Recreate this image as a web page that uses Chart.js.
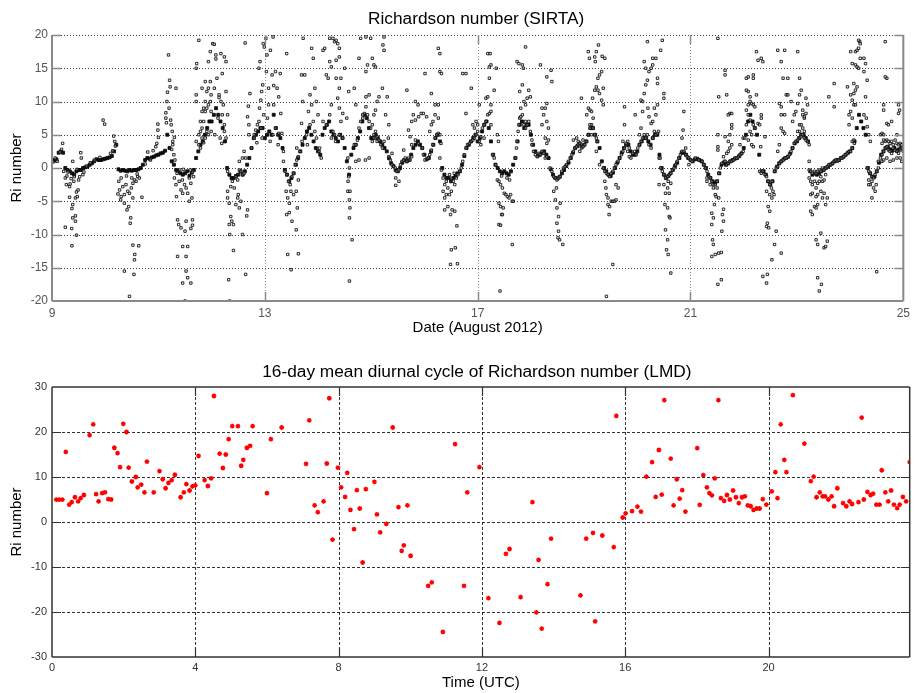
<!DOCTYPE html>
<html><head><meta charset="utf-8">
<script src="https://cdn.jsdelivr.net/npm/chart.js@4.4.1/dist/chart.umd.min.js"></script>
<style>
html,body{margin:0;padding:0;background:#fff;width:915px;height:693px;overflow:hidden}
canvas{position:absolute;left:0}
#top{top:0}
#bot{top:345px}
</style></head><body>
<canvas id="top" width="915" height="345"></canvas>
<canvas id="bot" width="915" height="348"></canvas>
<script>
// ---------- Top panel: Richardson number (SIRTA), days of August 2012 ----------
const dateTicks = [9, 13, 17, 21, 25];
const riTicksTop = [-20, -15, -10, -5, 0, 5, 10, 15, 20];
const bandDays = [9,10,11,12,13,14,15,16,17,18,19,20,21,22,23,24];
// hourly main band values (hour 0..23 of each day)
const bandAug09 = [1.2,1.1,1.3,2.3,2.5,2.3,0,-0.3,-0.5,-0.8,-1.0,-0.5,-0.3,-0.3,0,0.1,0.2,0.5,0.7,1.0,1.3,1.2,1.2,1.3];
const bandAug10 = [1.4,1.5,1.6,1.8,2.5,3.5,-0.2,-0.4,-0.3,-0.4,-0.5,-0.3,-0.4,-0.3,-0.3,-0.2,0,0.5,1.2,1.5,1.4,1.6,1.7,1.9];
const bandAug11 = [2.0,2.2,2.3,2.6,5,3,1,0.5,-0.3,-0.5,-0.8,-1.0,-0.8,-0.5,-1.2,-0.7,-0.3,1.5,2.5,3.5,4,5,6,7];
const bandAug12 = [7,8,9,8,7,6,4,0,-1,-1.5,-1.5,-1.2,-1,-0.5,-1,-0.5,0.5,1.5,3,4.5,5,5.5,6,6];
const bandAug13 = [4.5,5,5.5,5,8,6,5,4.5,3,-0.3,-1,-2,-1.5,-0.8,0.5,1.5,2.5,3.5,4.5,5.5,6,5,4,3];
const bandAug14 = [2.5,2,5,6,6.5,7,5.5,5,4.5,4,5,4.5,3,1,-1,2,3,3.5,4.5,5.5,7,8,7.5,6];
const bandAug15 = [4.5,4.5,5,4.5,4,3.5,3,2.5,1.5,0.7,0.3,-0.3,-0.5,0,0.8,1.2,1,1.2,2,3,3.5,4,3.5,3];
const bandAug16 = [2,1.3,1.5,2.5,3.5,4.5,5,4,0,-1,-1.5,-1.5,-2,-1.5,-1.2,-0.8,-0.5,0.5,1.8,3,3.5,4,4.5,5];
const bandAug17 = [4,4.5,5.5,6.5,7,6,4,2,0.5,0,-0.5,-0.8,-0.5,-0.8,-1,-0.5,0.5,1.5,4,6.5,7,6,6.5,6.5];
const bandAug18 = [5,3.5,2.5,1.8,2,2.3,2.5,2,1.5,-0.2,-1,-1.5,-1.6,-1.3,-0.8,-0.3,0.3,0.8,1.5,2.3,3,3.3,3.7,3.2];
const bandAug19 = [3.5,4,5,6,6,5,4,3,1,0,-0.5,-1,-1.2,-0.7,0,0.8,1.5,2.3,3,3.5,3.5,2.5,2,2];
const bandAug20 = [2.5,3.5,4,4.5,4.5,4,3.5,4.5,5,5,2,0,-1,-1.5,-1.2,-0.8,-0.3,0.3,0.8,1.5,2.3,2.3,2,1.5];
const bandAug21 = [1.2,1,1.3,1.4,1.2,1,0.5,0,-1,-1.5,-2,-2.3,-2,-0.8,0.5,0.8,0.5,0.7,1,1.2,1.4,1.5,1.8,2.2];
const bandAug22 = [3,5,7,8,7,6,5,2,-0.5,-0.5,-1,-2,-2.5,-2,-0.5,0.2,0.7,1,1.3,1.5,1.7,2.2,3,3.7];
const bandAug23 = [4,4.5,5,5,4.5,4,-0.5,-1,-0.8,-1,-0.8,-0.5,-0.3,0,0.2,0.5,0.7,1,1.2,1.2,1.5,1.7,2,2.3];
const bandAug24 = [2.5,3,4,6,8,7,6,5,0,-0.8,-1.3,-1.3,-0.5,0.8,2,2.5,3,3.2,2.8,2.6,3,2.6,2.8,3];

// scattered individual samples [day, Ri]
const spreadAug09 = [[9.25,-1.5],[9.27,-2.5],[9.33,-2.8],[9.34,-2.4],[9.33,-4.4],[9.375,-6.1],[9.39,-5.5],[9.44,-4.5],[9.475,-4.3],[9.49,-3.3],[9.46,-3.6],[9.39,-7.5],[9.44,-7.2],[9.44,-8],[9.46,-10.1],[9.375,-11.7],[9.25,-8.9],[9.37,-9.1],[9.54,2.3],[9.55,1.5],[9.52,-1.3],[9.58,-1],[9.39,1.0],[9.2,3.7],[9.18,2.8],[9.15,2.4],[9.3,-0.6],[9.36,-1.6],[9.41,-2],[9.5,-1.8],[9.6,-0.6],[9.28,-1.2],[9.22,-0.5],[9.42,-1.3],[9.47,-0.2],[9.96,7.2],[9.99,6.6],[9.9,1.6],[9.8,1.2],[9.72,0.8],[9.65,0.3],[9.02,0.9],[9.06,1.5],[9.1,1.0]];
const spreadAug10 = [[10.16,4.8],[10.18,4.0],[10.19,3.3],[10.14,2.6],[10.1,2.2],[10.256,-2],[10.27,-3.3],[10.3,-4.3],[10.33,-2.8],[10.36,-4.0],[10.39,-2.5],[10.425,-3.5],[10.456,-3.8],[10.49,-3],[10.52,-2.3],[10.55,-1.8],[10.58,-2],[10.61,-1.3],[10.64,-1.5],[10.69,-4.4],[10.36,-5.3],[10.44,-5.8],[10.52,-4.5],[10.41,-6.3],[10.48,-7.5],[10.47,-8.3],[10.52,-11.6],[10.556,-13],[10.55,-13.8],[10.54,-16],[10.63,-11.7],[10.456,-19.3],[10.36,-15.5],[10.29,-4.8],[10.24,-3.9],[10.3,-1.5],[10.4,-1.2],[10.5,-1.5],[10.6,-0.9],[10.99,6.6],[10.99,5.7],[11.0,4.6],[10.97,3.7],[10.95,3.2],[10.9,2.6],[10.85,1.2],[10.8,2.4],[10.75,0.6]];
const spreadAug11 = [[11.14,7.5],[11.14,8.3],[11.15,6.8],[11.16,10],[11.17,11.4],[11.19,17],[11.21,13.2],[11.22,12.2],[11.2,9],[11.23,7.2],[11.24,6.5],[11.26,5.5],[11.27,4],[11.3,4.6],[11.33,12],[11.27,3.5],[11.29,2],[11.31,1.2],[11.25,2.8],[11.3,-1.5],[11.33,-2.5],[11.34,-4.3],[11.39,-2],[11.425,-3.3],[11.456,-3.8],[11.49,-2.5],[11.52,-3],[11.55,-3.8],[11.58,-1.5],[11.61,-2.3],[11.64,-0.6],[11.66,-1.3],[11.63,-4.5],[11.36,-7.8],[11.38,-8.5],[11.425,-9],[11.5,-9.5],[11.52,-8],[11.61,-9.1],[11.64,-8.6],[11.58,-5],[11.456,-11.8],[11.55,-11.8],[11.36,-13.3],[11.52,-13.3],[11.52,-15.5],[11.55,-16.5],[11.456,-17.3],[11.61,-17.3],[11.5,-20],[11.64,-7.8],[11.4,-0.3],[11.45,-1.8],[11.6,-0.3],[11.35,-0.8],[11.47,-0.2],[11.71,10],[11.71,11],[11.71,15],[11.71,4],[11.72,15.7],[11.76,19.2],[11.76,5],[11.76,3.5],[11.79,7],[11.79,5.5],[11.79,3],[11.82,8.5],[11.82,6],[11.82,4.5],[11.82,12],[11.85,9],[11.85,7],[11.85,3.8],[11.88,10],[11.88,8.5],[11.88,4.5],[11.88,13],[11.91,11.5],[11.91,9],[11.91,5.5],[11.94,12],[11.94,9.5],[11.94,5],[11.94,16],[11.975,13],[11.975,10],[11.975,17.5],[11.99,11],[11.99,8.5],[11.99,5.5]];
const spreadAug12 = [[12.02,18.7],[12.05,18.6],[12.08,17],[12.08,16.4],[12.14,11],[12.14,10.6],[12.175,10],[12.2,8],[12.24,6.5],[12.175,17.2],[12.24,16.7],[12.27,16],[12.2,14.2],[12.27,11.5],[12.3,8],[12.24,5.5],[12.27,4.5],[12.19,3.7],[12.05,12],[12.1,13.5],[12.12,7.5],[12.06,5],[12.16,4.5],[12.22,9.5],[12.3,-0.5],[12.3,-3.5],[12.36,-2.8],[12.39,-2],[12.425,-3],[12.456,-1.3],[12.49,-1.8],[12.52,-0.3],[12.55,-0.5],[12.58,-1],[12.61,-0.8],[12.3,-4.5],[12.33,-5.3],[12.36,-7.3],[12.38,-8],[12.41,-8.5],[12.34,-10],[12.456,-5.5],[12.49,-4.5],[12.5,-4],[12.52,-6],[12.55,-5],[12.41,-12.4],[12.32,-16.8],[12.34,-20],[12.64,-16],[12.58,-10],[12.66,-7.2],[12.675,-6.3],[12.33,-8.5],[12.52,1],[12.58,1.5],[12.61,2.5],[12.64,1.5],[12.7,6.5],[12.7,5],[12.675,7.7],[12.69,9.3],[12.72,11.2],[12.63,18.8],[12.8,5],[12.8,4.5],[12.83,5.7],[12.86,6.5],[12.89,7],[12.9,9],[12.925,10.2],[12.94,11.5],[12.89,15],[12.91,16],[12.96,12.5],[12.97,18.7],[12.99,18.2],[12.75,3],[12.85,3.8],[12.95,4.5],[12.98,8],[12.93,6]];
const spreadAug13 = [[13.02,19.5],[13.04,17],[13.07,12],[13.07,9.5],[13.05,7.5],[13.03,14.5],[13.105,17.7],[13.155,19.7],[13.136,14],[13.2,14.5],[13.29,14.2],[13.167,12.4],[13.23,12],[13.26,10.7],[13.3,8.2],[13.32,5.2],[13.26,5.2],[13.2,6],[13.167,9.5],[13.41,17.2],[13.1,4],[13.15,5],[13.25,3.5],[13.35,2.5],[13.35,1],[13.38,-0.5],[13.41,-1],[13.445,-2],[13.476,-2.5],[13.51,-1.3],[13.54,-0.8],[13.57,0.5],[13.6,1.2],[13.63,1.7],[13.66,2.5],[13.4,-3.5],[13.43,-4.5],[13.46,-5.3],[13.49,-3.5],[13.54,-4],[13.59,-3.5],[13.63,-1.8],[13.61,-6],[13.41,-7],[13.46,-6.7],[13.51,-8],[13.59,-9.3],[13.43,-13],[13.63,-12.9],[13.495,-15.3],[13.69,14],[13.75,14],[13.71,10],[13.85,11],[13.82,8.5],[13.88,18],[13.91,16.5],[13.88,9.5],[13.94,12],[13.97,10],[13.72,19.5],[13.69,6.7],[13.785,5],[13.85,6.5],[13.91,7],[13.94,5.5],[13.97,4.5],[13.6,3],[13.7,4],[13.8,3.5],[14.0,8]];
const spreadAug14 = [[14.02,2.5],[14.03,3],[14.06,1.5],[14.094,7],[14.156,6.5],[14.22,8],[14.25,9.5],[14.28,5.5],[14.31,5],[14.33,4],[14.25,4.5],[14.19,13.5],[14.156,14],[14.125,18],[14.094,17.7],[14.22,19.5],[14.28,19.5],[14.31,19],[14.34,19.2],[14.37,18.7],[14.40,18],[14.22,16],[14.25,15.2],[14.34,13.5],[14.43,13.5],[14.40,12],[14.37,10.5],[14.40,9],[14.465,8.2],[14.43,7],[14.40,5],[14.465,4.5],[14.34,16.2],[14.40,16.7],[14.5,15],[14.56,1.5],[14.59,0],[14.576,-1.3],[14.564,-2],[14.56,-3.5],[14.6,-3.5],[14.59,-4.8],[14.6,-6],[14.59,-7.5],[14.64,-10.8],[14.59,-17],[14.54,7.5],[14.576,11.5],[14.68,12],[14.71,9.5],[14.77,16.5],[14.8,19.5],[14.9,14.5],[14.93,15.5],[14.84,8],[14.68,3.5],[14.71,3.5],[14.74,4.2],[14.77,6],[14.8,7],[14.84,7.5],[14.87,8.2],[14.9,9.2],[14.93,8],[14.96,7],[14.99,6],[15.02,6.5],[15.05,5],[15.08,4.5],[15.11,4],[14.77,1.2],[14.89,1.2],[14.96,1.5],[14.71,1],[14.9,10.7],[14.96,11],[15.02,16.5],[15.05,15.5],[15.08,15.2],[14.99,19.5],[14.9,19.7]];
const spreadAug15 = [[15.02,4],[15.05,4.5],[15.08,5.5],[15.11,4.7],[15.145,4.2],[15.18,3.5],[15.21,3],[15.24,4],[15.05,8],[15.08,8.7],[15.11,10],[15.145,10.7],[15.21,12],[15.24,17.7],[15.24,19.7],[15.22,18.5],[15.3,10.7],[15.27,8],[15.32,4.5],[15.33,6.5],[15.33,1.7],[15.36,1.2],[15.39,0.5],[15.42,0.2],[15.45,0],[15.48,-0.5],[15.52,-0.3],[15.55,0.5],[15.58,1],[15.61,1.2],[15.64,1.5],[15.67,1],[15.7,1.5],[15.73,1.2],[15.76,1.7],[15.46,-1.5],[15.46,-2.6],[15.52,-2],[15.39,2.2],[15.61,2.7],[15.67,11.7],[15.7,5.7],[15.73,4.7],[15.76,7],[15.83,7.2],[15.88,9.5],[15.83,10],[15.79,8],[16.01,14.2],[15.76,3.5],[15.83,4.2],[15.89,3.7],[15.96,3],[15.98,2],[15.89,7.7],[15.94,8.2],[15.98,8.2]];
const spreadAug16 = [[16.01,1.2],[16.07,1.5],[16.1,2],[16.13,2.7],[16.16,3.5],[16.2,4.5],[16.23,5],[16.26,5.2],[16.29,5],[16.31,3.7],[16.29,1.5],[16.04,7.7],[16.1,5.5],[16.13,6.5],[16.16,7],[16.2,8],[16.26,7.5],[16.2,9.5],[16.26,9.5],[16.29,14.5],[16.32,14.2],[16.26,18],[16.29,17.2],[16.13,11.2],[16.32,-0.3],[16.35,-1.5],[16.35,-3.5],[16.38,-2.5],[16.38,-4.5],[16.41,-2],[16.41,-4],[16.44,-3],[16.47,-4],[16.505,-3.5],[16.54,-2],[16.57,-2.5],[16.6,-1.5],[16.63,-1],[16.66,-0.5],[16.69,0],[16.38,-6.3],[16.44,-5.8],[16.49,-7],[16.52,-6.3],[16.57,-6.5],[16.61,-8.7],[16.505,-12.3],[16.58,-12],[16.49,-14.5],[16.62,-14.4],[16.47,-1],[16.56,-0.8],[16.72,1],[16.75,2],[16.78,3],[16.81,3.5],[16.845,3.7],[16.88,4],[16.91,4.2],[16.94,4.5],[16.97,5],[17.0,5.5],[16.72,14.2],[16.78,14.2],[16.88,12],[16.78,8.2],[16.91,6.5],[16.97,7],[17.0,6.5],[16.94,6]];
const spreadAug17 = [[17.03,4],[17.06,4.7],[17.09,6],[17.12,6.5],[17.155,7],[17.19,8],[17.22,8.2],[17.25,6.5],[17.25,8.5],[17.03,9.5],[17.155,10.5],[17.19,10.7],[17.22,13.5],[17.22,15.2],[17.25,15.5],[17.19,17.2],[17.235,17.2],[17.35,15],[17.31,11.7],[17.25,9.5],[17.28,2],[17.31,1.5],[17.34,0.5],[17.06,3.5],[17.12,4.5],[17.37,-1.8],[17.4,-2],[17.43,-2.5],[17.465,-3],[17.5,-3.8],[17.53,-4],[17.56,-4.3],[17.59,-4.5],[17.62,-4],[17.65,-5],[17.4,-5.3],[17.43,-5.8],[17.45,-7],[17.48,-6],[17.4,-8.5],[17.43,-8.6],[17.465,-7],[17.65,-11.5],[17.42,-18.5],[17.67,-5],[17.37,5],[17.39,4],[17.45,-1.2],[17.55,-1.5],[17.6,-1.8],[17.71,1.5],[17.73,3],[17.74,4],[17.76,5.5],[17.775,6.5],[17.79,7.5],[17.81,9],[17.84,8],[17.87,6.5],[17.9,6],[17.93,6.5],[17.96,7],[17.99,5.5],[17.74,16],[17.775,15.7],[17.84,15.5],[17.86,15],[17.9,18.2],[17.84,12.5],[17.79,11.5],[17.87,10],[17.9,9.5],[17.93,10.5],[17.96,11.7],[17.99,10.7],[17.9,7],[17.81,7.7]];
const spreadAug18 = [[18.02,3.5],[18.05,2.5],[18.085,2],[18.12,1.7],[18.15,2.2],[18.18,2],[18.21,2.5],[18.24,2.2],[18.27,1.5],[18.3,1.7],[18.02,4.2],[18.21,6.5],[18.24,8],[18.27,4.5],[18.3,3.7],[18.21,9],[18.27,9],[18.3,7],[18.33,6],[18.33,4.2],[18.3,13.7],[18.38,14.7],[18.395,13],[18.18,15.5],[18.3,9.7],[18.36,0],[18.395,-0.5],[18.43,-1.3],[18.46,-1.5],[18.49,-1.8],[18.52,-1.5],[18.55,-1.3],[18.58,-0.5],[18.61,0],[18.64,0.2],[18.67,0.5],[18.43,-3.5],[18.46,-4.8],[18.49,-6],[18.52,-7.3],[18.49,-8.3],[18.52,-9.5],[18.51,-10.5],[18.54,-10.8],[18.6,-11.5],[18.55,-5.3],[18.48,-3],[18.705,1],[18.74,1.5],[18.77,2],[18.8,2.5],[18.83,3],[18.86,3.2],[18.89,3.5],[18.92,3.7],[18.95,3],[18.98,3.2],[18.8,4.2],[18.86,4.5],[18.89,4],[18.95,10.5],[18.98,4.2],[18.92,2.5]];
const spreadAug19 = [[19.015,3.5],[19.05,4],[19.08,5],[19.11,6],[19.14,6.5],[19.17,6],[19.2,5],[19.23,4.5],[19.245,4],[19.05,8],[19.08,9],[19.11,8.7],[19.14,8.5],[19.17,7.5],[19.16,10.5],[19.2,11.7],[19.23,12.2],[19.26,13.5],[19.29,14],[19.33,14.5],[19.26,11.7],[19.29,11.2],[19.33,10.2],[19.36,9.5],[19.08,17.5],[19.1,16.5],[19.2,16.7],[19.21,16],[19.23,17.5],[19.39,16.5],[19.11,6.5],[19.14,5],[19.23,2.5],[19.29,0.5],[19.36,12],[19.27,18.5],[19.34,16.8],[19.36,0],[19.39,-0.5],[19.42,-0.8],[19.45,-1],[19.48,-1.3],[19.51,-0.8],[19.54,-0.5],[19.57,0],[19.6,0.5],[19.39,-2],[19.41,-3],[19.42,-4],[19.45,-4.5],[19.45,-5.5],[19.48,-5.8],[19.51,-5],[19.54,-5],[19.57,-5],[19.6,-4.8],[19.6,-2.5],[19.64,-3],[19.47,-7],[19.54,-14.5],[19.42,-19.3],[19.64,1],[19.67,1.5],[19.7,2],[19.73,2.5],[19.76,3],[19.79,3.5],[19.82,4],[19.73,4],[19.76,6.5],[19.79,3.7],[19.82,2.5],[19.85,1.7],[19.88,1.5],[19.915,2.2],[19.95,2.5],[19.98,2],[19.76,9.2],[19.96,8],[19.85,3]];
const spreadAug20 = [[20.01,3],[20.04,5],[20.07,6],[20.04,3.5],[20.07,4],[20.1,4.5],[20.13,5],[20.16,4.5],[20.19,5],[20.22,3.5],[20.26,3],[20.29,4.5],[20.32,5.5],[20.35,5],[20.38,5.2],[20.4,5.5],[20.1,10],[20.13,11.2],[20.16,12.5],[20.19,13.2],[20.22,14.5],[20.26,15],[20.29,15.5],[20.13,16],[20.16,15],[20.19,19],[20.29,16.5],[20.35,16.5],[20.38,13.5],[20.38,12.7],[20.44,17.7],[20.47,19.2],[20.5,11.2],[20.5,10.5],[20.22,7.7],[20.26,6.7],[20.29,7],[20.38,9.5],[20.32,9],[20.35,8],[20.41,1.5],[20.43,1.5],[20.07,10.2],[20.1,8.5],[20.2,9],[20.44,0],[20.47,-0.5],[20.5,-1],[20.53,-1.5],[20.57,-1.3],[20.6,-1],[20.63,-0.8],[20.66,-0.3],[20.69,0],[20.5,-2.5],[20.53,-3.8],[20.57,-3],[20.58,-2],[20.6,-3.8],[20.63,-2.3],[20.52,-5.5],[20.57,-6],[20.6,-7.3],[20.615,-7.5],[20.53,-9.3],[20.57,-10.8],[20.55,-12.3],[20.58,-13],[20.63,-15.8],[20.41,-2.5],[20.72,0.5],[20.75,1],[20.78,1.5],[20.81,2],[20.84,2.5],[20.875,2.5],[20.91,2],[20.94,1.7],[20.97,1.5],[21.0,1.2],[20.84,4.5],[20.86,5.7],[20.875,8.5],[20.91,3],[20.97,0.5]];
const spreadAug21 = [[21.03,1],[21.09,1.5],[21.155,1.2],[21.22,1],[21.25,0.5],[21.28,0],[21.31,-0.5],[21.34,-1.3],[21.37,-1.5],[21.4,-2],[21.43,-2.5],[21.465,-2.5],[21.5,-2],[21.53,-0.8],[21.31,-1.5],[21.31,-2],[21.37,-2.5],[21.43,-3],[21.5,-3],[21.465,-4],[21.45,-5.5],[21.48,-4.3],[21.53,-4.5],[21.4,-6.8],[21.43,-7.5],[21.4,-8.5],[21.62,-6.2],[21.6,-7],[21.62,-8],[21.59,-9.5],[21.415,-10.8],[21.43,-11.5],[21.4,-13.3],[21.465,-13],[21.53,-12.8],[21.58,-12.7],[21.58,-16.8],[21.515,-17.5],[21.53,10.7],[21.65,14],[21.65,14.7],[21.68,11],[21.65,4.7],[21.515,2.7],[21.515,3.2],[21.62,1.7],[21.64,1],[21.515,19.5],[21.515,5],[21.56,0],[21.59,0.7],[21.65,1],[21.68,0.5],[21.71,0.7],[21.74,1],[21.775,1],[21.81,1.2],[21.84,1.5],[21.87,1.5],[21.9,1.7],[21.93,2],[21.96,2.2],[21.99,2.5],[21.68,2.2],[21.71,2.5],[21.74,3],[21.775,3.5],[21.71,4],[21.74,5],[21.775,6.5],[21.74,8.2],[21.775,6],[21.71,8],[21.775,8.2],[21.93,3.5],[21.99,4.5]];
const spreadAug22 = [[22.02,4.5],[22.05,6.5],[22.085,8],[22.05,8.7],[22.085,9.5],[22.12,10],[22.15,9.7],[22.18,9.5],[22.21,9.2],[22.05,11.7],[22.085,11.5],[22.12,10.7],[22.05,13.5],[22.085,13.7],[22.18,14],[22.18,13.5],[22.12,7.2],[22.12,5.5],[22.15,5],[22.18,6.5],[22.21,6],[22.085,4.2],[22.15,3.5],[22.18,3.2],[22.24,17.5],[22.27,16.2],[22.33,16.5],[22.36,16],[22.24,11],[22.27,6.7],[22.33,8],[22.3,6.5],[22.33,7.5],[22.32,3.2],[22.4,4.7],[22.3,-0.5],[22.33,-0.8],[22.36,-0.5],[22.4,-1],[22.43,-1.3],[22.46,-2],[22.49,-2.5],[22.52,-3],[22.55,-3.5],[22.53,-4.5],[22.49,-4],[22.43,-3.5],[22.46,-5.8],[22.49,-6.5],[22.445,-8.3],[22.47,-9],[22.43,-8.8],[22.53,-2],[22.57,-4],[22.58,-11.5],[22.53,-13.8],[22.705,-12.8],[22.445,-16],[22.36,-16.3],[22.43,-17.3],[22.61,-9.5],[22.58,-0.5],[22.61,0],[22.64,0.2],[22.67,0.7],[22.705,1],[22.74,1.2],[22.77,1.5],[22.8,1.5],[22.83,1.7],[22.86,2],[22.89,2.5],[22.92,3],[22.95,3.7],[22.98,4],[22.64,2.5],[22.67,3.5],[22.705,6],[22.74,5.5],[22.77,5.2],[22.77,8],[22.8,11],[22.83,11],[22.705,8],[22.67,9.7],[22.705,9.2],[22.64,17.7],[22.77,17.7],[22.705,16],[22.74,13.5],[22.83,13.5],[22.89,10],[22.92,7],[22.95,8],[22.98,8.5]];
const spreadAug23 = [[23.015,9.7],[23.05,11],[23.015,17.5],[23.05,13.5],[23.08,11.7],[23.11,8],[23.14,7.5],[23.015,5.5],[23.05,5.5],[23.08,5],[23.11,5],[23.015,4.2],[23.05,4.5],[23.08,4.7],[23.14,4.5],[23.17,4.2],[23.2,4],[23.23,3.5],[23.05,6.5],[23.08,6.5],[23.11,6],[23.14,5.5],[23.14,7.7],[23.17,8.2],[23.2,9.5],[23.17,10.5],[23.11,8.7],[23.23,-0.3],[23.26,-0.5],[23.29,-0.8],[23.33,-0.5],[23.36,-0.8],[23.39,-0.5],[23.42,-0.3],[23.45,-0.5],[23.48,0],[23.51,-0.3],[23.54,0],[23.57,0.2],[23.6,0.5],[23.23,-1.5],[23.26,-2],[23.29,-2.5],[23.33,-2],[23.36,-3],[23.39,-2.3],[23.42,-2],[23.45,-1.3],[23.48,-2],[23.51,-1.8],[23.54,-1],[23.26,-4],[23.29,-3.8],[23.36,-4.3],[23.39,-4],[23.45,-3.5],[23.48,-4.5],[23.51,-3.8],[23.54,-5.5],[23.57,-4.5],[23.26,-6.5],[23.29,-7],[23.33,-5.8],[23.36,-6],[23.39,-5.5],[23.36,-10.8],[23.39,-11.5],[23.45,-9.8],[23.51,-12],[23.57,-11],[23.54,-11.8],[23.39,-16.5],[23.46,-17.5],[23.42,-18.5],[23.23,1],[23.64,0.5],[23.67,0.7],[23.7,1],[23.73,1.2],[23.76,1],[23.79,1.2],[23.82,1.5],[23.85,1.5],[23.88,1.7],[23.91,2],[23.95,2.2],[23.98,2.5],[23.6,10.7],[23.7,12.7],[23.7,9.2],[23.95,12.2],[23.98,6.5],[23.98,8]];
const spreadAug24 = [[24.01,2.5],[24.04,3],[24.04,4],[24.07,4.2],[24.08,3.7],[24.01,8.5],[24.04,7.5],[24.07,9.5],[24.1,9.5],[24.04,10.2],[24.01,11],[24.07,11.2],[24.1,11.7],[24.13,12.2],[24.07,12.7],[24.1,15.5],[24.13,15.2],[24.16,15],[24.04,15.7],[24.1,17.5],[24.13,17.7],[24.16,18],[24.18,19],[24.16,19.2],[24.19,18.7],[24.19,16.5],[24.26,16.5],[24.29,15.7],[24.26,14.5],[24.32,13.2],[24.29,10.7],[24.26,8],[24.305,7.5],[24.32,6.2],[24.35,5],[24.38,4],[24.01,17.5],[24.32,0],[24.35,-0.5],[24.38,-0.8],[24.41,-1.3],[24.44,-1.5],[24.47,-1],[24.5,-0.5],[24.53,0],[24.35,-1.8],[24.38,-2.5],[24.41,-2],[24.44,-3],[24.47,-3.5],[24.49,-2.5],[24.35,-2.5],[24.41,-4.5],[24.5,-15.6],[24.53,1],[24.57,1.5],[24.6,2],[24.63,2.5],[24.66,3],[24.69,3.2],[24.72,2.7],[24.75,2.5],[24.78,2.2],[24.81,3],[24.845,2.7],[24.88,2.5],[24.91,2.2],[24.94,2.7],[24.97,3],[25.0,2.5],[24.6,3.7],[24.63,4.2],[24.66,4],[24.69,4.2],[24.72,4],[24.75,3.7],[24.78,4],[24.81,3.5],[24.845,4.2],[24.88,3.7],[24.91,3.5],[24.94,3.7],[24.97,3.5],[24.6,1],[24.63,1.2],[24.69,1.5],[24.75,1],[24.81,1.2],[24.88,1.5],[24.94,1.5],[24.97,1],[24.63,9.5],[24.63,8.7],[24.69,6.7],[24.72,6.5],[24.78,7],[24.69,13.5],[24.66,13.7],[24.66,19],[24.57,5],[24.6,5.2],[24.63,5],[24.88,5],[24.91,9.5],[24.93,8.7],[24.91,8.2]];

// ---------- Bottom panel: 16-day mean diurnal cycle (LMD) ----------
const hourTicks = [0, 4, 8, 12, 16, 20];
const riTicksBottom = [-30, -20, -10, 0, 10, 20, 30];
const diurnalHour = [0.12,0.2,0.29,0.385,0.48,0.55,0.64,0.73,0.8,0.89,1.05,1.15,1.23,1.3,1.4,1.48,1.57,1.65,1.74,1.83,1.9,1.99,2.08,2.14,2.23,2.34,2.39,2.49,2.58,2.65,2.84,3.0,3.09,3.17,3.25,3.34,3.43,3.59,3.68,3.75,3.84,3.92,4.0,4.09,4.26,4.35,4.44,4.52,4.68,4.77,4.85,4.93,5.03,5.19,5.28,5.34,5.44,5.53,5.6,6.0,6.11,6.41,7.09,7.18,7.33,7.42,7.58,7.67,7.74,7.83,7.98,8.07,8.18,8.24,8.33,8.43,8.51,8.59,8.67,8.76,9.0,9.07,9.16,9.33,9.51,9.67,9.76,9.82,9.92,10.01,10.5,10.6,10.91,11.25,11.5,11.59,11.93,12.18,12.49,12.67,12.77,13.08,13.41,13.52,13.58,13.67,13.83,13.93,14.75,14.91,15.1,15.16,15.36,15.68,15.75,15.93,16.01,16.19,16.34,16.44,16.59,16.75,16.85,16.94,17.02,17.09,17.27,17.35,17.44,17.52,17.59,17.68,18.01,18.08,18.18,18.28,18.35,18.42,18.5,18.6,18.67,18.76,18.84,18.92,19.01,19.09,19.17,19.26,19.34,19.42,19.5,19.58,19.67,19.75,19.84,19.94,20.09,20.19,20.25,20.34,20.44,20.5,20.68,21.0,21.18,21.26,21.34,21.43,21.51,21.58,21.67,21.76,21.83,21.92,22.08,22.17,22.26,22.33,22.51,22.6,22.66,22.76,22.85,22.92,23.01,23.1,23.16,23.26,23.34,23.42,23.5,23.59,23.66,23.75,23.84,23.94];
const diurnalRi = [4.96,4.96,4.96,15.6,3.85,4.4,5.5,4.6,5.3,6.0,19.3,21.7,6.2,4.6,6.4,6.6,5.1,5.0,16.5,15.3,12.2,21.8,20.0,12.1,9.0,10.0,7.7,8.3,6.6,13.4,6.6,11.3,9.5,7.5,8.7,9.3,10.5,5.5,6.6,8.4,7.0,7.9,8.15,14.7,9.3,8.0,9.7,28.0,15.2,12.0,15.0,18.4,21.3,21.3,12.5,13.8,16.5,16.9,21.3,6.4,18.4,21.0,12.9,22.6,3.7,2.2,4.6,13.0,27.5,-3.9,12.1,7.7,5.6,10.9,2.7,-1.6,7.1,3.0,-9.0,7.3,8.9,1.7,-2.3,-0.4,21.0,3.3,-6.4,-5.2,3.7,-7.5,-14.2,-13.4,-24.4,17.3,-14.2,6.6,12.2,-16.9,-22.4,-7.1,-6.0,-16.7,4.4,-20.1,-8.4,-23.7,-13.8,-3.7,-16.3,-3.7,-2.4,-22.1,-3.0,-5.6,23.6,1.0,1.9,2.4,3.4,2.3,10.1,13.3,5.6,16.0,6.1,27.1,14.1,3.7,9.5,5.2,7.1,2.3,16.4,3.8,10.4,7.7,6.4,5.9,9.7,27.1,5.3,4.7,6.0,5.0,7.0,5.5,4.2,5.5,5.7,3.7,3.5,2.7,3.0,3.0,5.1,3.85,6.8,11.1,5.3,21.7,13.8,11.1,28.2,17.4,9.1,10.1,5.5,6.6,5.7,5.7,5.0,5.7,3.5,7.5,4.2,3.5,4.6,4.0,4.4,23.2,5.0,6.7,6.0,6.3,3.85,3.85,11.5,6.6,4.6,7.0,3.85,3.1,3.85,5.6,4.6,13.3];

// ---------- build point lists ----------
const bandArrays = [bandAug09,bandAug10,bandAug11,bandAug12,bandAug13,bandAug14,bandAug15,bandAug16,bandAug17,bandAug18,bandAug19,bandAug20,bandAug21,bandAug22,bandAug23,bandAug24];
const spreadArrays = [spreadAug09,spreadAug10,spreadAug11,spreadAug12,spreadAug13,spreadAug14,spreadAug15,spreadAug16,spreadAug17,spreadAug18,spreadAug19,spreadAug20,spreadAug21,spreadAug22,spreadAug23,spreadAug24];
const bandPts = [];
bandArrays.forEach((arr, i) => arr.forEach((v, h) => bandPts.push({x: bandDays[i] + h / 24, y: v})));
const spreadPts = [];
spreadArrays.forEach(arr => arr.forEach(p => spreadPts.push({x: p[0], y: p[1]})));
const diurnalPts = diurnalHour.map((h, i) => ({x: h, y: diurnalRi[i]}));

const FONT = "'Liberation Sans', Arial, Helvetica, sans-serif";

const framePlugin = {
  id: 'frame',
  beforeDatasetsDraw(chart, args, o) {
    const {ctx, chartArea: a, scales: {x, y}} = chart;
    ctx.save();
    ctx.lineWidth = 1;
    ctx.setLineDash(o.hDash); ctx.strokeStyle = o.hColor;
    o.hGrid.forEach(v => {
      const py = Math.round(y.getPixelForValue(v)) + 0.5;
      ctx.beginPath(); ctx.moveTo(a.left, py); ctx.lineTo(a.right, py); ctx.stroke();
    });
    ctx.setLineDash(o.vDash); ctx.strokeStyle = o.vColor;
    o.vGrid.forEach(v => {
      const px = Math.round(x.getPixelForValue(v)) + 0.5;
      ctx.beginPath(); ctx.moveTo(px, a.top); ctx.lineTo(px, a.bottom); ctx.stroke();
    });
    ctx.restore();
  },
  afterDatasetsDraw(chart, args, o) {
    const {ctx, chartArea: a, scales: {x, y}} = chart;
    ctx.save();
    ctx.setLineDash([]);
    ctx.strokeStyle = o.axisColor;
    ctx.lineWidth = o.tickWidth;
    const L = o.tickLen;
    o.xTickMarks.forEach(v => {
      const px = Math.round(x.getPixelForValue(v)) + 0.5;
      ctx.beginPath(); ctx.moveTo(px, a.bottom); ctx.lineTo(px, a.bottom - L);
      ctx.moveTo(px, a.top); ctx.lineTo(px, a.top + L); ctx.stroke();
    });
    o.yTickMarks.forEach(v => {
      const py = Math.round(y.getPixelForValue(v)) + 0.5;
      ctx.beginPath(); ctx.moveTo(a.left, py); ctx.lineTo(a.left + L, py);
      ctx.moveTo(a.right, py); ctx.lineTo(a.right - L, py); ctx.stroke();
    });
    ctx.lineWidth = o.axisWidth;
    ctx.beginPath();
    if (o.sides.includes('left')) { ctx.moveTo(a.left, a.top); ctx.lineTo(a.left, a.bottom); }
    if (o.sides.includes('bottom')) { ctx.moveTo(a.left, a.bottom); ctx.lineTo(a.right, a.bottom); }
    if (o.sides.includes('right')) { ctx.moveTo(a.right, a.top); ctx.lineTo(a.right, a.bottom); }
    if (o.sides.includes('top')) { ctx.moveTo(a.left, a.top); ctx.lineTo(a.right, a.top); }
    ctx.stroke();
    // chart title
    ctx.fillStyle = '#000';
    ctx.font = o.titleFont;
    ctx.textAlign = 'center';
    ctx.textBaseline = 'alphabetic';
    ctx.fillText(o.title, (a.left + a.right) / 2 + o.titleDx, o.titleBaseline);
    ctx.restore();
  }
};

function fixTicks(vals) {
  return s => { s.ticks = vals.map(v => ({value: v})); };
}

// ---------- top chart ----------
new Chart(document.getElementById('top'), {
  type: 'scatter',
  data: {datasets: [
    {data: spreadPts, pointStyle: 'rect', pointRadius: 1.7, pointBorderWidth: 0.9,
     pointBorderColor: '#151515', pointBackgroundColor: 'rgba(255,255,255,0.4)'},
    {data: bandPts, pointStyle: 'rect', pointRadius: 2.1, pointBorderWidth: 0.8,
     pointBorderColor: '#000', pointBackgroundColor: '#151515'}
  ]},
  options: {
    responsive: false, animation: false, devicePixelRatio: 1,
    layout: {padding: {top: 35, right: 5, left: 0, bottom: 0}},
    plugins: {
      legend: {display: false}, tooltip: {enabled: false},
      frame: {
        hGrid: [-15, -10, -5, 0, 5, 10, 15, 20], hDash: [1, 2], hColor: 'rgba(0,0,0,0.75)',
        vGrid: [13, 17, 21], vDash: [1, 2], vColor: 'rgba(0,0,0,0.45)',
        xTickMarks: [13, 17, 21], yTickMarks: [-15, -10, -5, 0, 5, 10, 15, 20],
        tickLen: 9, tickWidth: 1.5, axisColor: '#8a8a8a', axisWidth: 2,
        sides: ['left', 'bottom', 'right'],
        title: 'Richardson number (SIRTA)', titleFont: '17.3px ' + FONT, titleDx: -1.5, titleBaseline: 24
      }
    },
    scales: {
      x: {
        type: 'linear', min: 9, max: 25,
        afterBuildTicks: fixTicks(dateTicks),
        afterFit: s => { s.height = 44; },
        grid: {display: false, drawTicks: false}, border: {display: false},
        ticks: {color: '#555', font: {family: FONT, size: 12}, padding: 5, maxRotation: 0, autoSkip: false},
        title: {display: true, text: 'Date (August 2012)', color: '#000', font: {family: FONT, size: 15}, padding: {top: 0, bottom: 8}}
      },
      y: {
        type: 'linear', min: -20, max: 20,
        afterBuildTicks: fixTicks(riTicksTop),
        afterFit: s => { s.width = 52; },
        grid: {display: false, drawTicks: false}, border: {display: false},
        ticks: {color: '#555', font: {family: FONT, size: 12}, padding: 4, autoSkip: false},
        title: {display: true, text: 'Ri number', color: '#000', font: {family: FONT, size: 15}, padding: {top: 8, bottom: 0}}
      }
    }
  },
  plugins: [framePlugin]
});

// ---------- bottom chart ----------
new Chart(document.getElementById('bot'), {
  type: 'scatter',
  data: {datasets: [
    {data: diurnalPts, pointStyle: 'star', pointRadius: 2.4, pointBorderWidth: 1.3,
     pointBorderColor: '#ff0000', pointBackgroundColor: '#ff0000'}
  ]},
  options: {
    responsive: false, animation: false, devicePixelRatio: 1,
    layout: {padding: {top: 42, right: 5, left: 0, bottom: 0}},
    plugins: {
      legend: {display: false}, tooltip: {enabled: false},
      frame: {
        hGrid: [-20, -10, 0, 10, 20], hDash: [3, 2], hColor: 'rgba(0,0,0,0.8)',
        vGrid: [4, 8, 12, 16, 20], vDash: [3, 2], vColor: 'rgba(0,0,0,0.8)',
        xTickMarks: [4, 8, 12, 16, 20], yTickMarks: [-20, -10, 0, 10, 20],
        tickLen: 9, tickWidth: 1.2, axisColor: '#333', axisWidth: 1.5,
        sides: ['left', 'bottom', 'right', 'top'],
        title: '16-day mean diurnal cycle of Richardson number (LMD)', titleFont: '17.3px ' + FONT, titleDx: -4, titleBaseline: 31.5
      }
    },
    scales: {
      x: {
        type: 'linear', min: 0, max: 23.94,
        afterBuildTicks: fixTicks(hourTicks),
        afterFit: s => { s.height = 36; },
        grid: {display: false, drawTicks: false}, border: {display: false},
        ticks: {color: '#333', font: {family: FONT, size: 11}, padding: 4, maxRotation: 0, autoSkip: false},
        title: {display: true, text: 'Time (UTC)', color: '#000', font: {family: FONT, size: 15}, padding: {top: 0, bottom: 1}}
      },
      y: {
        type: 'linear', min: -30, max: 30,
        afterBuildTicks: fixTicks(riTicksBottom),
        afterFit: s => { s.width = 52; },
        grid: {display: false, drawTicks: false}, border: {display: false},
        ticks: {color: '#333', font: {family: FONT, size: 11}, padding: 5, autoSkip: false},
        title: {display: true, text: 'Ri number', color: '#000', font: {family: FONT, size: 15}, padding: {top: 8, bottom: 0}}
      }
    }
  },
  plugins: [framePlugin]
});
</script>
</body></html>
